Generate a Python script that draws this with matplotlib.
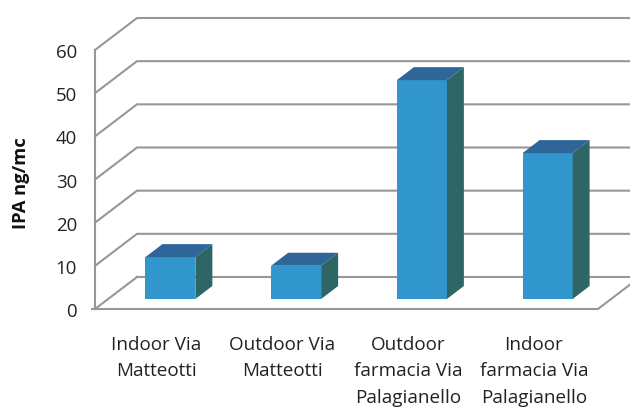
import matplotlib
matplotlib.use("Agg")
import matplotlib.pyplot as plt
from matplotlib.patches import Polygon

categories = ["Indoor Via\nMatteotti", "Outdoor Via\nMatteotti",
              "Outdoor\nfarmacia Via\nPalagianello", "Indoor\nfarmacia Via\nPalagianello"]
values = [9.7, 7.7, 50.7, 33.8]
yticks = [0, 10, 20, 30, 40, 50, 60]
ylabel = "IPA ng/mc"

W, H = 630, 409
plt.rcParams["font.family"] = ["Open Sans", "DejaVu Sans"]
fig = plt.figure(figsize=(W / 100, H / 100), dpi=100)
L, R, B, T = 95, 598, 309, 50
ax = fig.add_axes([L / W, 1 - B / H, (R - L) / W, (B - T) / H])
ax.set_xlim(0, 4)
ax.set_ylim(0, 60)
ax.axis("off")

px = 4 / (R - L)
py = 60 / (B - T)
wall_dx, wall_dy = 42 * px, 32 * py
bar_dx, bar_dy = 12.5 * px, 10 * py
depth_dx, depth_dy = 17 * px, 13 * py
half = 25 * px
GRID = "#979797"

def grid_line(xs, ys, z=1):
    ax.plot(xs, ys, color=GRID, lw=1.5, clip_on=False, zorder=z, solid_joinstyle="miter")

x_max = 4 + wall_dx
for t in yticks:
    if t == 0:
        grid_line([0, 4, x_max], [0, 0, wall_dy])
        grid_line([0, wall_dx], [0, wall_dy])
        grid_line([wall_dx, x_max], [wall_dy, wall_dy])
    else:
        grid_line([0, wall_dx, x_max], [t, t + wall_dy, t + wall_dy])
grid_line([0, 0], [0, 60])
grid_line([-3 * px, 0], [0, 0])

FRONT, TOP, SIDE = "#3096CC", "#2F6699", "#2E6666"
for i, v in enumerate(values):
    x0 = i + 0.5 + bar_dx - half
    x1 = i + 0.5 + bar_dx + half
    y0, y1 = bar_dy, bar_dy + v
    ax.add_patch(Polygon([(x0, y0), (x1, y0), (x1, y1), (x0, y1)], fc=FRONT, ec="none", zorder=4, clip_on=False))
    ax.add_patch(Polygon([(x0, y1), (x1, y1), (x1 + depth_dx, y1 + depth_dy), (x0 + depth_dx, y1 + depth_dy)],
                         fc=TOP, ec="none", zorder=4, clip_on=False))
    ax.add_patch(Polygon([(x1, y0), (x1 + depth_dx, y0 + depth_dy), (x1 + depth_dx, y1 + depth_dy), (x1, y1)],
                         fc=SIDE, ec="none", zorder=4, clip_on=False))
    ax.text(i + 0.49, -27 * py, categories[i], ha="center", va="top", fontsize=13.6,
            linespacing=1.6, color="#222222", clip_on=False)

for t in yticks:
    ax.text(-18 * px, t - 3 * py, str(t), ha="right", va="center", fontsize=13.4, color="#222222")

fig.text(21 / W, 1 - 183 / H, ylabel, rotation=90, ha="center", va="center",
         fontsize=13.2, fontweight="bold", color="#111111")

fig.savefig("out.png", dpi=100, facecolor="white")
